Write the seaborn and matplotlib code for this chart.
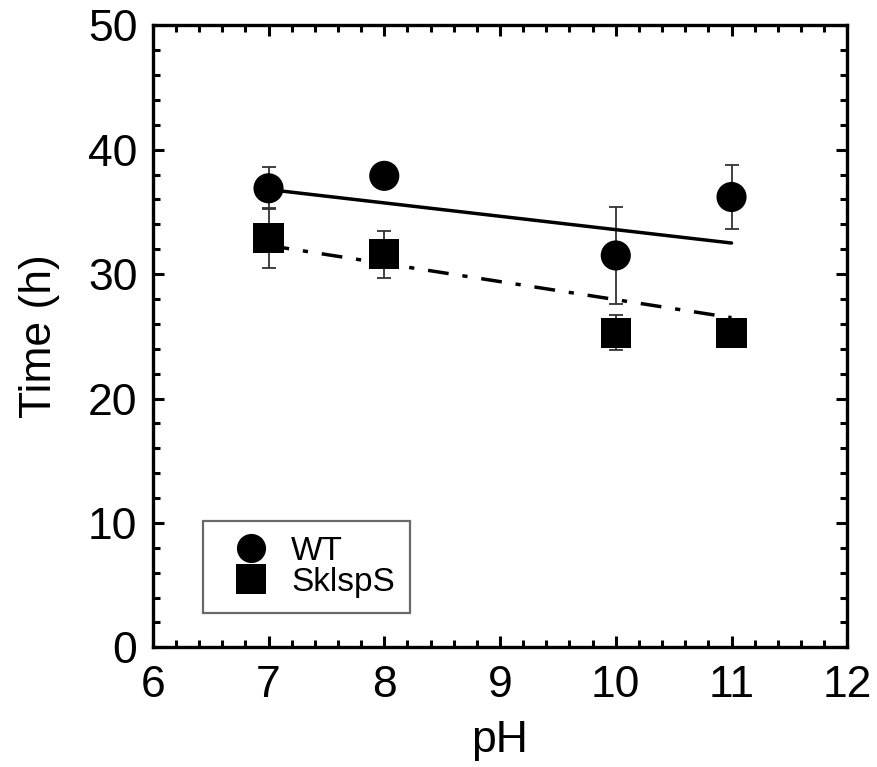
import numpy as np
import pandas as pd
import matplotlib
matplotlib.use("Agg")
import matplotlib.pyplot as plt
from matplotlib.ticker import MultipleLocator
import seaborn as sns

ph = [7, 8, 10, 11]
wt_time = [36.9, 37.9, 31.5, 36.2]
wt_err = [1.7, 0.3, 3.9, 2.6]
sk_time = [32.9, 31.6, 25.3, 25.3]
sk_err = [2.4, 1.9, 1.4, 0.3]

# trend lines as drawn in the figure (end points)
fit_ph = [7, 11]
wt_fit = [36.8, 32.5]
sk_fit = [32.3, 26.5]

sns.set_style("ticks", {'axes.edgecolor': 'black', 'text.color': 'black',
                        'xtick.color': 'black', 'ytick.color': 'black',
                        'axes.labelcolor': 'black'})
plt.rcParams['font.family'] = ['Liberation Sans', 'DejaVu Sans']

fig = plt.figure(figsize=(8.78, 7.67), dpi=100)
ax = fig.add_axes([0.174, 0.156, 0.791, 0.811])

# error bars behind the markers
ax.errorbar(ph, wt_time, yerr=wt_err, fmt='none', ecolor='#333333',
            elinewidth=1.3, capsize=5, capthick=1.3, zorder=1)
ax.errorbar(ph, sk_time, yerr=sk_err, fmt='none', ecolor='#333333',
            elinewidth=1.3, capsize=5, capthick=1.3, zorder=1)

fit = pd.DataFrame({'pH': fit_ph, 'wt': wt_fit, 'sk': sk_fit})
sns.lineplot(data=fit, x='pH', y='wt', ax=ax, color='black', linewidth=2.5, zorder=2)
sns.lineplot(data=fit, x='pH', y='sk', ax=ax, color='black', linewidth=2.5,
             linestyle=(0, (6, 4, 1.5, 4)), zorder=2)

pts = pd.DataFrame({'pH': ph * 2,
                    'time': wt_time + sk_time,
                    'strain': ['WT'] * 4 + ['SklspS'] * 4})
sns.scatterplot(data=pts, x='pH', y='time', hue='strain', style='strain',
                markers={'WT': 'o', 'SklspS': 's'},
                palette={'WT': 'black', 'SklspS': 'black'},
                s=470, edgecolor='black', linewidth=0, ax=ax, zorder=3)

ax.set_xlim(6, 12)
ax.set_ylim(0, 50)
ax.xaxis.set_major_locator(MultipleLocator(1))
ax.xaxis.set_minor_locator(MultipleLocator(0.2))
ax.yaxis.set_major_locator(MultipleLocator(10))
ax.yaxis.set_minor_locator(MultipleLocator(2))
ax.tick_params(which='both', direction='in', top=True, right=True, width=2.2,
               labelsize=32, colors='black')
ax.tick_params(which='major', length=8)
ax.tick_params(which='minor', length=5)
ax.tick_params(axis='x', which='major', pad=13)
ax.tick_params(axis='y', which='major', pad=11)
for sp in ax.spines.values():
    sp.set_linewidth(2.4)
    sp.set_color('black')
    sp.set_visible(True)

ax.set_xlabel('pH', fontsize=32, labelpad=10, color='black')
ax.set_ylabel('Time (h)', fontsize=32, labelpad=20, color='black')

handles, labels = ax.get_legend_handles_labels()
for h in handles:
    h.set_markersize(21)
leg = ax.legend(handles, labels, loc='lower left', bbox_to_anchor=(0.072, 0.055),
                fontsize=24, frameon=True, fancybox=False,
                handletextpad=0.2, borderpad=0.45, labelspacing=0.0,
                borderaxespad=0)
leg.get_frame().set_edgecolor('#444444')
leg.get_frame().set_linewidth(1.6)
for t in leg.get_texts():
    t.set_color('black')

fig.savefig('out.png', dpi=100)
